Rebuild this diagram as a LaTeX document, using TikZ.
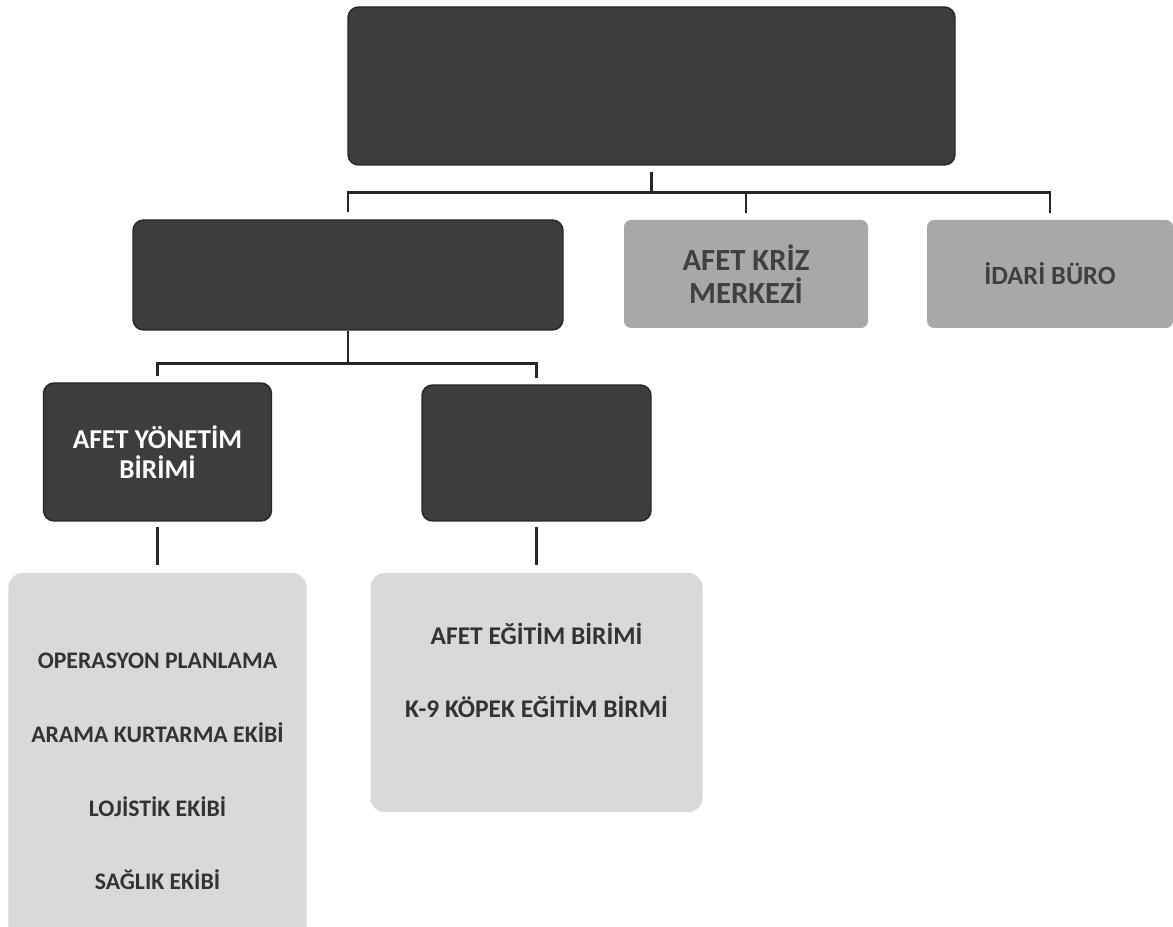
\documentclass[tikz,border=0pt]{standalone}
\usepackage{fontspec}
\setmainfont{Carlito}
\usetikzlibrary{positioning,calc}

\begin{document}
\begin{tikzpicture}[
  font=\bfseries\fontsize{13}{17}\selectfont,
  unit/.style={rectangle, rounded corners=6pt, draw=black!85, line width=0.8pt,
               fill=black!76, text=white, align=center, inner sep=2pt,
               font=\bfseries\fontsize{15.5}{17}\selectfont},
  office/.style={rectangle, rounded corners=4pt, fill=black!34, text=black!75,
                 align=center, inner sep=2pt},
  team/.style={rectangle, rounded corners=8pt, fill=black!15, inner sep=0pt},
  teamtext/.style={align=center, text=black!80},
  link/.style={draw=black!85, line width=1.6pt},
]
\useasboundingbox (0,0) rectangle (23.46,18.54);

% Level 1
\node[unit, minimum width=12.14cm, minimum height=3.16cm] (top) at (13.03,16.82) {};

% Level 2
\node[unit, minimum width=8.6cm, minimum height=2.2cm] (mid) at (6.96,13.04) {};
\node[office, minimum width=4.88cm, minimum height=2.16cm,
      font=\bfseries\fontsize{17.5}{19}\selectfont] (kriz) at (14.92,13.06)
  {AFET KRİZ\\MERKEZİ};
\node[office, minimum width=4.92cm, minimum height=2.16cm,
      font=\bfseries\fontsize{15}{17}\selectfont] (idari) at (21.0,13.06)
  {İDARİ BÜRO};

% Level 3
\node[unit, minimum width=4.56cm, minimum height=2.76cm] (ayb) at (3.15,9.5)
  {AFET YÖNETİM\\BİRİMİ};
\node[unit, minimum width=4.58cm, minimum height=2.72cm] (egt) at (10.73,9.48) {};

% Level 4: teams
\node[team, minimum width=5.96cm, minimum height=7.94cm] (ekip) at (3.15,3.11) {};
\node[teamtext, font=\bfseries\fontsize{13.5}{17}\selectfont] (ekiptext) at (ekip.center)
  {OPERASYON PLANLAMA\\[25pt]ARAMA KURTARMA EKİBİ\\[25pt]LOJİSTİK EKİBİ\\[25pt]SAĞLIK EKİBİ};
\node[team, minimum width=6.64cm, minimum height=4.78cm] (egitim) at (10.73,4.69) {};
\node[teamtext, font=\bfseries\fontsize{14.5}{17}\selectfont] (egitimtext)
  at ($(egitim.center)+(0,0.44)$)
  {AFET EĞİTİM BİRİMİ\\[25pt]K-9 KÖPEK EĞİTİM BİRMİ};

% connectors
\draw[link, shorten <=0.12cm] (top.south) -- ++(0,-0.54) coordinate (j1);
\draw[link, shorten <=0.14cm, shorten >=0.14cm] (mid.north) |- (j1) -| (idari.north);
\draw[link, shorten <=0.14cm] (kriz.north) -- (kriz.north |- j1);
\draw[link] (mid.south) -- ++(0,-0.66) coordinate (j2);
\draw[link, shorten <=0.12cm, shorten >=0.12cm] (ayb.north) |- (j2) -| (egt.north);
\draw[link, shorten <=0.1cm, shorten >=0.16cm] (ayb) -- (ekip);
\draw[link, shorten <=0.1cm, shorten >=0.16cm] (egt) -- (egitim);
\end{tikzpicture}
\end{document}
